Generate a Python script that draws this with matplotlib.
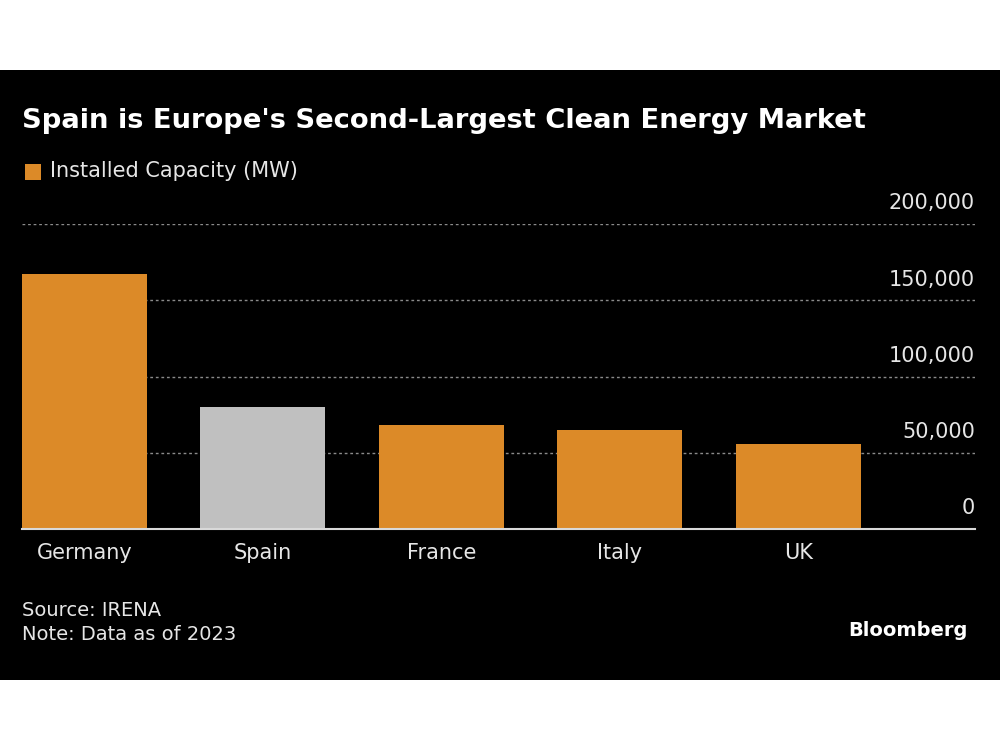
import matplotlib.pyplot as plt
from matplotlib.patches import Rectangle

paises = ['Germany', 'Spain', 'France', 'Italy', 'UK']
capacidad = [167200, 80000, 68000, 65200, 55500]
colores = ['#dc8a28', '#c0c0c0', '#dc8a28', '#dc8a28', '#dc8a28']
ticks_y = [0, 50000, 100000, 150000, 200000]

fig = plt.figure(figsize=(10, 7.5), dpi=100)
fig.patch.set_facecolor('white')

# panel negro (detras de los ejes)
fig.patches.append(Rectangle((0, 70 / 750), 1, 610 / 750, transform=fig.transFigure,
                             facecolor='black', edgecolor='none', zorder=-10))

# ejes en pixeles: x 22..975, y 224..529
ax = fig.add_axes([22 / 1000, 1 - 529 / 750, 953 / 1000, 305 / 750])
ax.set_facecolor('black')
ax.bar(range(len(paises)), capacidad, width=0.7, color=colores, zorder=3)
ax.set_xlim(-0.35, 4.99)
ax.set_ylim(0, 200000)

for s in ['top', 'left', 'right']:
    ax.spines[s].set_visible(False)
ax.spines['bottom'].set_color('#d9d9d9')
ax.spines['bottom'].set_linewidth(1.5)
ax.spines['bottom'].set_zorder(4)

for t in ticks_y[1:]:
    ax.axhline(t, color='#8a8a8a', linestyle=(0, (2, 2)), linewidth=1, zorder=1)

ax.set_yticks([])
ax.set_xticks(range(len(paises)))
ax.set_xticklabels(paises, color='#e6e6e6', fontsize=15)
ax.tick_params(axis='x', length=0, pad=10)

for t in ticks_y:
    ax.text(1.0, t + 7000, f'{t:,}', transform=ax.get_yaxis_transform(),
            ha='right', va='bottom', color='#e6e6e6', fontsize=15)

# titulo y leyenda
fig.text(22 / 1000, 1 - 121 / 750, "Spain is Europe's Second-Largest Clean Energy Market",
         color='white', fontsize=19.7, fontweight='bold', va='center')
fig.patches.append(Rectangle((25 / 1000, 1 - 180 / 750), 16 / 1000, 16 / 750,
                             transform=fig.transFigure, facecolor='#dc8a28', edgecolor='none'))
fig.text(50 / 1000, 1 - 171 / 750, 'Installed Capacity (MW)', color='#e6e6e6',
         fontsize=15, va='center')

# pie
fig.text(22 / 1000, 1 - 610 / 750, 'Source: IRENA', color='#e6e6e6', fontsize=14, va='center')
fig.text(22 / 1000, 1 - 634 / 750, 'Note: Data as of 2023', color='#e6e6e6', fontsize=14, va='center')
fig.text(968 / 1000, 1 - 630 / 750, 'Bloomberg', color='white', fontsize=14,
         fontweight='bold', ha='right', va='center')

fig.savefig('out.png', dpi=100, facecolor=fig.get_facecolor())
